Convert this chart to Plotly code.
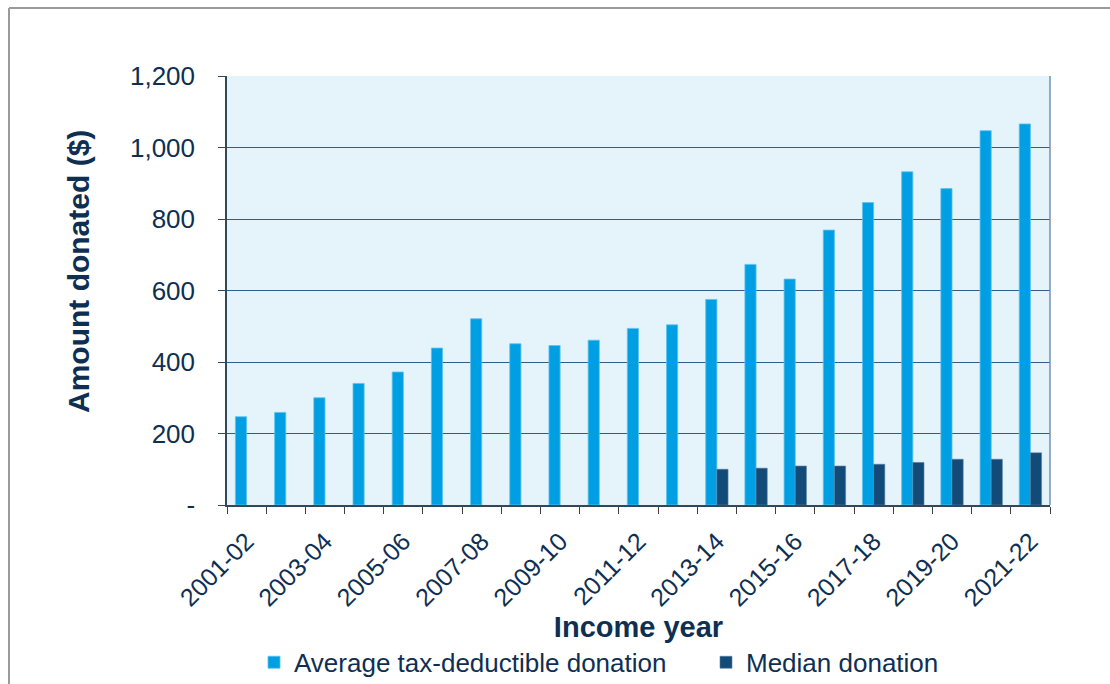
import plotly.graph_objects as go

# Income years (x categories)
years = ["2001-02", "2002-03", "2003-04", "2004-05", "2005-06", "2006-07", "2007-08",
         "2008-09", "2009-10", "2010-11", "2011-12", "2012-13", "2013-14", "2014-15",
         "2015-16", "2016-17", "2017-18", "2018-19", "2019-20", "2020-21", "2021-22"]

# Average tax-deductible donation ($)
average_donation = [247, 259, 300, 340, 372, 439, 521, 451, 446, 461, 494, 504,
                    575, 673, 632, 769, 846, 932, 885, 1047, 1066]

# Median donation ($), only available from 2013-14
median_donation = [None] * 12 + [100, 103, 109, 109, 114, 119, 128, 128, 146]

# Axis labels
y_tick_values = [0, 200, 400, 600, 800, 1000, 1200]
y_tick_text = ["-", "200", "400", "600", "800", "1,000", "1,200"]
x_tick_text = [y if i % 2 == 0 else "" for i, y in enumerate(years)]

NAVY = "#0E2F52"
FONT = "Liberation Sans, Arial, sans-serif"

fig = go.Figure()
fig.add_trace(go.Bar(
    x=years, y=average_donation, name="Average tax-deductible donation",
    marker=dict(color="#009FE3", line=dict(color="#5CC3EE", width=0.8)),
    legend="legend",
))
fig.add_trace(go.Bar(
    x=years, y=median_donation, name="Median donation",
    marker=dict(color="#124A78", line=dict(color="#5A7FA0", width=0.6)),
    legend="legend2",
))

L, R, T, B = 227, 60, 76, 179
W, H = 1110, 684
pw, ph = W - L - R, H - T - B

legend_style = dict(
    orientation="h", xanchor="left", y=-0.312, yanchor="top",
    font=dict(size=26, color=NAVY, family=FONT),
    itemwidth=30, bgcolor="rgba(0,0,0,0)",
)

fig.update_layout(
    width=W, height=H,
    margin=dict(l=L, r=R, t=T, b=B, autoexpand=False),
    paper_bgcolor="white",
    plot_bgcolor="#E5F3FB",
    barmode="group",
    bargap=0.43,
    bargroupgap=0,
    font=dict(family=FONT, color=NAVY),
    showlegend=True,
    legend=dict(x=(254 - L) / pw, **legend_style),
    legend2=dict(x=(706 - L) / pw, **legend_style),
    xaxis=dict(
        type="category",
        automargin=False,
        tickmode="array", tickvals=years, ticktext=x_tick_text,
        tickangle=-45,
        tickson="boundaries",
        ticks="outside", ticklen=7, tickcolor="#404040",
        ticklabelstandoff=10,
        tickfont=dict(size=25, color=NAVY, family=FONT),
        showline=True, linecolor="#33475B", linewidth=1.5,
        showgrid=False,
        title=dict(text="<b>Income year</b>", font=dict(size=29, color=NAVY, family=FONT),
                   standoff=6),
    ),
    yaxis=dict(
        automargin=False,
        range=[0, 1200],
        tickmode="array", tickvals=y_tick_values, ticktext=y_tick_text,
        ticks="outside", ticklen=7, tickcolor="#33475B",
        ticklabelstandoff=18,
        tickfont=dict(size=26, color=NAVY, family=FONT),
        showline=True, linecolor="#33475B", linewidth=1.5,
        mirror=False,
        showgrid=True, gridcolor="#2E5F8C", gridwidth=1,
        zeroline=False,
    ),
)

# Y-axis title
fig.add_annotation(
    text="<b>Amount donated ($)</b>", textangle=-90,
    xref="paper", yref="paper",
    x=(78 - L) / pw, y=(H - B - 272) / ph,
    xanchor="center", yanchor="middle", showarrow=False,
    font=dict(size=30, color=NAVY, family=FONT),
)

# Right edge of the plotting area
fig.add_shape(type="line", xref="paper", yref="paper", x0=1, x1=1, y0=0, y1=1,
              line=dict(color="#6F93B5", width=1.5))

# Chart frame (top and left edges)
fx0 = (9 - L) / pw
fy1 = (H - B - 8) / ph
fig.add_shape(type="line", xref="paper", yref="paper", x0=fx0, x1=1.2, y0=fy1, y1=fy1,
              line=dict(color="#9A9A9A", width=2))
fig.add_shape(type="line", xref="paper", yref="paper", x0=fx0, x1=fx0, y0=fy1, y1=-0.5,
              line=dict(color="#9A9A9A", width=2))

fig.write_html("out.html")
